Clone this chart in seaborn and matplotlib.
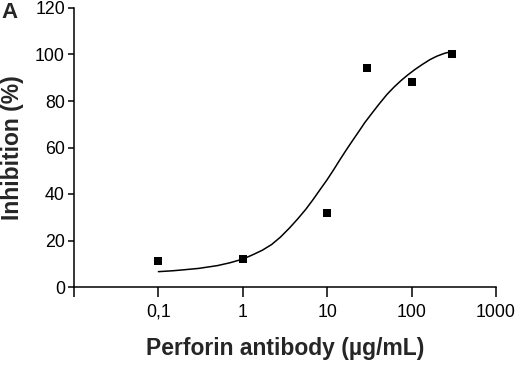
import matplotlib
matplotlib.use("Agg")
import matplotlib.pyplot as plt
import seaborn as sns
import pandas as pd

# measured points
dose = [0.1, 1, 10, 30, 100, 300]
inhibition = [11, 12, 32, 94, 88, 100]

# fitted curve
curve_x = [0.1, 0.15, 0.2, 0.3, 0.5, 0.7, 1, 1.3, 1.7, 2.2, 2.8, 3.6, 4.5, 5.6,
           6.8, 8.2, 10, 12, 14.3, 17, 20, 24, 28, 34, 41, 51, 62, 75, 90, 110,
           135, 165, 200, 245, 300]
curve_y = [6.6, 7.0, 7.4, 8.0, 9.2, 10.4, 12.0, 13.8, 15.8, 18.3, 21.5, 25.5,
           29.4, 33.5, 37.6, 41.8, 46.2, 50.6, 55.0, 59.2, 63.0, 67.2, 70.8,
           74.8, 78.6, 82.8, 86.0, 88.8, 91.2, 93.6, 95.8, 97.8, 99.3, 100.5,
           101.3]

xticks = [0.01, 0.1, 1, 10, 100, 1000]
xticklabels = ["", "0,1", "1", "10", "100", "1000"]
yticks = [0, 20, 40, 60, 80, 100, 120]

sns.set_theme(style="ticks")
plt.rcParams['font.family'] = ['Liberation Sans', 'DejaVu Sans']

pts = pd.DataFrame({"dose": dose, "inh": inhibition})
cur = pd.DataFrame({"x": curve_x, "y": curve_y})

fig = plt.figure(figsize=(5.2, 3.66), dpi=100)
ax = fig.add_axes([74/520, 1-287/366, (496-74)/520, (287-8)/366])

sns.lineplot(data=cur, x="x", y="y", ax=ax, color="black", linewidth=1.1, sort=False)
sns.scatterplot(data=pts, x="dose", y="inh", ax=ax, marker="s", color="black",
                s=28, edgecolor="black", linewidth=0, zorder=3)

ax.set_xscale("log")
ax.set_xlim(0.01, 1000)
ax.set_ylim(0, 120)
ax.set_xticks(xticks)
ax.set_xticklabels(xticklabels)
ax.minorticks_off()
ax.set_yticks(yticks)
ax.tick_params(axis="x", length=7, width=1.1, colors="black", labelsize=12.8, pad=5)
ax.tick_params(axis="y", length=4.5, width=1.1, colors="black", labelsize=12.8, pad=2)
for s in ["top", "right"]:
    ax.spines[s].set_visible(False)
for s in ["left", "bottom"]:
    ax.spines[s].set_linewidth(1.1)
    ax.spines[s].set_color("black")

ax.set_xlabel("Perforin antibody (µg/mL)", fontsize=16.5, fontweight="bold", labelpad=12)
ax.set_ylabel("Inhibition (%)", fontsize=16.5, fontweight="bold", labelpad=8)
fig.text(10/520, 1-13/366, "A", fontsize=16, fontweight="bold", ha="center", va="center")

fig.savefig("out.png", dpi=100)
